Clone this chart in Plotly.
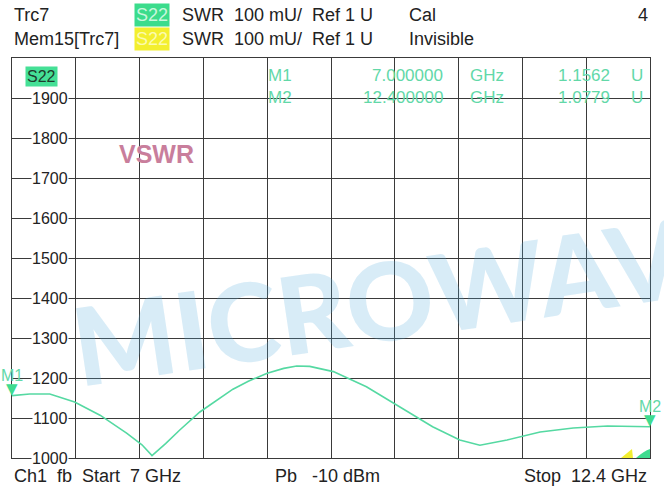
import plotly.graph_objects as go

# ---- data ----
freq_ghz = [7.00, 7.15, 7.32, 7.53, 7.745, 7.97, 8.10, 8.185, 8.30, 8.42, 8.59, 8.76, 8.87,
            9.00, 9.16, 9.30, 9.41, 9.52, 9.72, 10.00, 10.28, 10.56, 10.79, 10.96,
            11.19, 11.47, 11.75, 12.04, 12.40]
swr_mu = [1156, 1160, 1160, 1140, 1107, 1062, 1033, 1006, 1036, 1070, 1115, 1150, 1172,
          1192, 1212, 1224, 1230, 1229, 1216, 1178, 1128, 1078, 1045, 1032,
          1045, 1065, 1075, 1080, 1078]
y_ticks = [1000, 1100, 1200, 1300, 1400, 1500, 1600, 1700, 1800, 1900]
marker_names = ["M1", "M2"]
marker_freq = [7.0, 12.4]
marker_val = [1156.2, 1077.9]

X0, X1 = 7.0, 12.4
Y0, Y1 = 1000, 2000

W, H = 664, 490
L, R, T, B = 12, 14, 58, 32
PW, PH = W - L - R, H - T - B

def px(x):  # figure pixel -> paper x
    return (x - L) / PW

def py(y):  # figure pixel -> paper y
    return (H - B - y) / PH

TRACE = "#55d9a2"
FONT = "Liberation Sans, Arial, sans-serif"
DARK = "#222222"

fig = go.Figure()
fig.add_trace(go.Scatter(x=freq_ghz, y=swr_mu, mode="lines",
                         line=dict(color=TRACE, width=1.6), hoverinfo="skip",
                         showlegend=False))

ann = []

def txt(text, x, y, size=17, color=DARK, xanchor="left", **kw):
    d = dict(text=text, x=px(x), y=py(y), xref="paper", yref="paper",
             showarrow=False, xanchor=xanchor, yanchor="middle",
             font=dict(family=FONT, size=size, color=color))
    d.update(kw)
    ann.append(d)

# watermark
ann.append(dict(text="MICROWAV", x=px(378), y=py(300), xref="paper", yref="paper",
                showarrow=False, xanchor="center", yanchor="middle", textangle=-8.5,
                font=dict(family="Lato, Liberation Sans, sans-serif", size=108, weight=900,
                          color="rgba(87,175,219,0.23)")))

# header
txt("Trc7", 12, 15, size=18)
txt("Mem15[Trc7]", 12, 39, size=18)
txt("S22", 152, 15, size=18, color="#c9f7dd", xanchor="center", bgcolor="#3bdc8c", borderpad=1)
txt("S22", 152, 39, size=18, color="#fbfbb0", xanchor="center", bgcolor="#f3ef2e", borderpad=1)
txt("SWR  100 mU/  Ref 1 U", 180, 15, size=18)
txt("SWR  100 mU/  Ref 1 U", 180, 39, size=18)
txt("Cal", 407, 15, size=18)
txt("Invisible", 407, 39, size=18)
txt("4", 650, 15, size=18, xanchor="right")

# footer
txt("Ch1  fb  Start  7 GHz", 12, 476, size=18)
txt("Pb   -10 dBm", 273, 476, size=18)
txt("Stop  12.4 GHz", 649, 476, size=18, xanchor="right")

# in-plot trace label
txt("S22", 25, 76, size=16, color="#1e3b2c", bgcolor="#45e096", borderpad=1)

# VSWR label
txt("<b>VSWR</b>", 156, 154, size=25, color="#c97e9c", xanchor="center")

# y tick labels with white background
for v in y_ticks:
    ann.append(dict(text=str(v), x=px(69), y=v, xref="paper", yref="y",
                    showarrow=False, xanchor="right", yanchor="middle",
                    bgcolor="white", borderpad=0,
                    font=dict(family=FONT, size=16, color=DARK)))

# marker readout table
rows_y = [75, 97]
for name, f, v, ry in zip(marker_names, marker_freq, marker_val, rows_y):
    txt(name, 266, ry, size=17, color="#62d8a8")
    txt(f"{f:.6f}", 445, ry, size=17, color="#62d8a8", xanchor="right")
    txt("GHz", 468, ry, size=17, color="#62d8a8")
    txt(f"{v/1000:.4f}", 612, ry, size=17, color="#62d8a8", xanchor="right")
    txt("U", 629, ry, size=17, color="#62d8a8")

# marker triangles and labels on the trace
for name, f, v in zip(marker_names, marker_freq, marker_val):
    ann.append(dict(text="▼", x=f, y=v, xref="x", yref="y", showarrow=False,
                    xanchor="center", yanchor="bottom", yshift=-4,
                    font=dict(family="DejaVu Sans", size=15, color="#3fdc90")))
    ann.append(dict(text=name, x=f, y=v, xref="x", yref="y", showarrow=False,
                    xanchor="center", yanchor="bottom", yshift=10,
                    font=dict(family=FONT, size=16, color="#62d8a8")))

shapes = [
    # memory / out-of-range wedges at lower right
    dict(type="path", xref="paper", yref="paper",
         path=f"M {px(621)} {py(458)} L {px(632)} {py(449)} L {px(633)} {py(458)} Z",
         fillcolor="#f2ee30", line=dict(width=0)),
    dict(type="path", xref="paper", yref="paper",
         path=f"M {px(636)} {py(458)} Q {px(644)} {py(451)} {px(650)} {py(449)} L {px(650)} {py(458)} Z",
         fillcolor="#3fdc90", line=dict(width=0)),
]

fig.update_layout(
    width=W, height=H,
    margin=dict(l=L, r=R, t=T, b=B, pad=0),
    paper_bgcolor="white", plot_bgcolor="white",
    showlegend=False,
    annotations=ann, shapes=shapes,
    xaxis=dict(range=[X0, X1], tick0=X0, dtick=(X1 - X0) / 10, showticklabels=False,
               ticks="", showgrid=True, gridcolor="#3a3a3a", gridwidth=1,
               zeroline=False, showline=True, mirror=True, linecolor="#3a3a3a",
               linewidth=1, fixedrange=True),
    yaxis=dict(range=[Y0, Y1], tick0=Y0, dtick=100, showticklabels=False,
               ticks="", showgrid=True, gridcolor="#3a3a3a", gridwidth=1,
               zeroline=False, showline=True, mirror=True, linecolor="#3a3a3a",
               linewidth=1, fixedrange=True),
)

fig.write_html("out.html", config={"displayModeBar": False},
               post_script="document.body.style.margin='0';document.body.style.overflow='hidden';")
